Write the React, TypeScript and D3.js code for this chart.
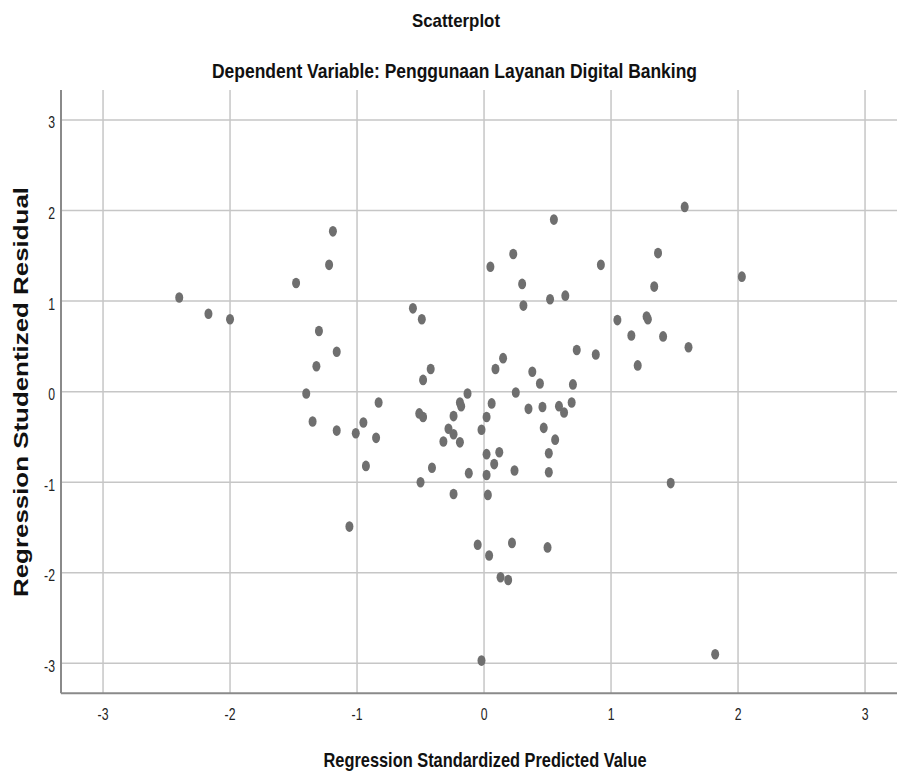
import React, { useEffect, useRef } from "react"
import * as d3 from "d3"

const predicted = [
    -2.40, -2.17, -2.00, -1.48, -1.19, -1.22, -0.56, -0.49, -1.30, -1.16,
    -1.32, -1.40, -1.35, -1.16, -1.01, -0.95, -0.83, -0.85, -0.42, -0.48,
    -0.51, -0.48, -0.13, -0.19, -0.18, -0.24, -0.28, -0.24, -0.32, -0.19,
    0.05, 0.23, 0.55, 0.30, 0.31, 0.52, 0.64, 0.92, 0.73, 0.88,
    0.15, 0.09, 0.38, 0.44, 0.70, 0.25, 0.06, 0.02, -0.02, 0.35,
    0.46, 0.59, 0.63, 0.69, 0.47, 0.56, 1.58, 1.37, 2.03, 1.34,
    1.05, 1.28, 1.29, 1.16, 1.41, 1.61, 1.21, 1.47, 1.82, -0.93,
    -0.41, -0.50, -0.24, -0.12, 0.02, 0.03, 0.02, 0.12, 0.08, 0.24,
    0.51, 0.51, -1.06, -0.05, 0.04, 0.22, 0.50, 0.13, 0.19, -0.02
]
const residual = [
    1.04, 0.86, 0.80, 1.20, 1.77, 1.40, 0.92, 0.80, 0.67, 0.44,
    0.28, -0.02, -0.33, -0.43, -0.46, -0.34, -0.12, -0.51, 0.25, 0.13,
    -0.24, -0.28, -0.02, -0.12, -0.16, -0.27, -0.41, -0.47, -0.55, -0.56,
    1.38, 1.52, 1.90, 1.19, 0.95, 1.02, 1.06, 1.40, 0.46, 0.41,
    0.37, 0.25, 0.22, 0.09, 0.08, -0.01, -0.13, -0.28, -0.42, -0.19,
    -0.17, -0.16, -0.23, -0.12, -0.40, -0.53, 2.04, 1.53, 1.27, 1.16,
    0.79, 0.83, 0.80, 0.62, 0.61, 0.49, 0.29, -1.01, -2.90, -0.82,
    -0.84, -1.00, -1.13, -0.90, -0.92, -1.14, -0.69, -0.67, -0.80, -0.87,
    -0.68, -0.89, -1.49, -1.69, -1.81, -1.67, -1.72, -2.05, -2.08, -2.97
]
const tickValues = [-3, -2, -1, 0, 1, 2, 3]
const title = "Scatterplot"
const subtitle = "Dependent Variable: Penggunaan Layanan Digital Banking"
const xTitle = "Regression Standardized Predicted Value"
const yTitle = "Regression Studentized Residual"

const font = "'Liberation Sans', Arial, sans-serif"

export default function App() {
    const ref = useRef<SVGSVGElement>(null)

    useEffect(() => {
        const svg = d3.select(ref.current)
        svg.selectAll("*").remove()
        const width = 897
        const left = 61
        const top = 90
        const bottom = 693.3
        const xScale = d3
            .scaleLinear()
            .domain([-3.331, 3.331])
            .range([left, left + 127 * 6.662])
        const yScale = d3
            .scaleLinear()
            .domain([-3.331, 3.331])
            .range([bottom, top])

        // grid
        svg.append("g")
            .selectAll("line")
            .data(tickValues)
            .enter()
            .append("line")
            .attr("x1", d => xScale(d))
            .attr("x2", d => xScale(d))
            .attr("y1", top)
            .attr("y2", bottom)
            .attr("stroke", "#c6c6c6")
            .attr("stroke-width", 1.5)
        svg.append("g")
            .selectAll("line")
            .data(tickValues)
            .enter()
            .append("line")
            .attr("x1", left)
            .attr("x2", width)
            .attr("y1", d => yScale(d))
            .attr("y2", d => yScale(d))
            .attr("stroke", "#c6c6c6")
            .attr("stroke-width", 1.5)

        // axes
        svg.append("line")
            .attr("x1", left).attr("x2", left)
            .attr("y1", top).attr("y2", bottom)
            .attr("stroke", "#8a8a8a").attr("stroke-width", 2)
        svg.append("line")
            .attr("x1", left).attr("x2", width)
            .attr("y1", bottom).attr("y2", bottom)
            .attr("stroke", "#8a8a8a").attr("stroke-width", 2)

        // tick labels
        svg.append("g")
            .selectAll("text")
            .data(tickValues)
            .enter()
            .append("text")
            .attr("transform", d => `translate(${xScale(d)},720) scale(0.72,1)`)
            .attr("text-anchor", "middle")
            .attr("font-family", font)
            .attr("font-size", 17)
            .attr("fill", "#222")
            .text(d => d)
        svg.append("g")
            .selectAll("text")
            .data(tickValues)
            .enter()
            .append("text")
            .attr("transform", d => `translate(55,${yScale(d) + 8.5}) scale(0.72,1)`)
            .attr("text-anchor", "end")
            .attr("font-family", font)
            .attr("font-size", 17)
            .attr("fill", "#222")
            .text(d => d)

        // points
        svg.append("g")
            .selectAll("ellipse")
            .data(d3.zip(predicted, residual))
            .enter()
            .append("ellipse")
            .attr("cx", d => xScale(d[0]))
            .attr("cy", d => yScale(d[1]))
            .attr("rx", 4)
            .attr("ry", 5.3)
            .attr("fill", "#6f6f6f")

        // titles
        const titles = [
            { text: title, x: 456, y: 27, size: 19, len: 88 },
            { text: subtitle, x: 454.5, y: 77.5, size: 19.5, len: 485 },
            { text: xTitle, x: 485, y: 767, size: 21, len: 323 }
        ]
        svg.append("g")
            .selectAll("text")
            .data(titles)
            .enter()
            .append("text")
            .attr("x", d => d.x)
            .attr("y", d => d.y)
            .attr("text-anchor", "middle")
            .attr("font-family", font)
            .attr("font-weight", "bold")
            .attr("font-size", d => d.size)
            .attr("textLength", d => d.len)
            .attr("lengthAdjust", "spacingAndGlyphs")
            .attr("fill", "#111")
            .text(d => d.text)
        svg.append("text")
            .attr("transform", "translate(28,392) rotate(-90)")
            .attr("text-anchor", "middle")
            .attr("font-family", font)
            .attr("font-weight", "bold")
            .attr("font-size", 21)
            .attr("textLength", 410)
            .attr("lengthAdjust", "spacingAndGlyphs")
            .attr("fill", "#111")
            .text(yTitle)
    }, [])

    return (
        <svg
            ref={ref}
            width={897}
            height={776}
            style={{ position: "absolute", left: 0, top: 0, background: "#fff" }}
        />
    )
}
